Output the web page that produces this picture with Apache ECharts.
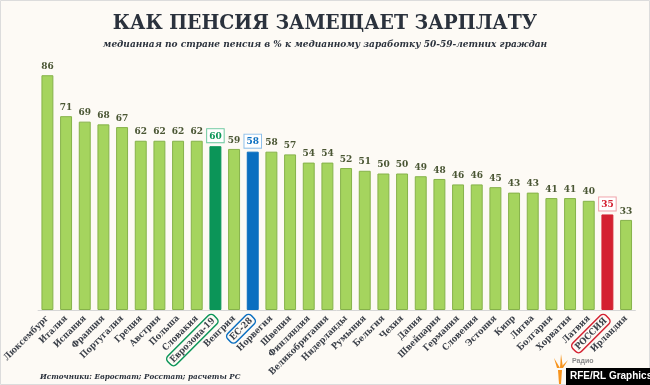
<!DOCTYPE html>
<html><head><meta charset="utf-8">
<script src="https://cdn.jsdelivr.net/npm/echarts@6/dist/echarts.min.js"></script>
<style>html,body{margin:0;padding:0;background:#fdfaf5}#c{width:650px;height:385px}</style>
</head><body><div id="c"></div>
<script>
const categories = ['Люксембург','Италия','Испания','Франция','Португалия','Греция','Австрия','Польша','Словакия','Еврозона-19','Венгрия','ЕС-28','Норвегия','Швеция','Финляндия','Великобритания','Нидерланды','Румыния','Бельгия','Чехия','Дания','Швейцария','Германия','Словения','Эстония','Кипр','Литва','Болгария','Хорватия','Латвия','РОССИЯ','Ирландия'];
const values = [86,71,69,68,67,62,62,62,62,60,59,58,58,57,54,54,52,51,50,50,49,48,46,46,45,43,43,41,41,40,35,33];
const highlight = {'Еврозона-19':'eu','ЕС-28':'ec','РОССИЯ':'ru'};
const hlColors = {eu:'#0b9558', ec:'#0b6fc0', ru:'#d42131'};
const labelBorder = {eu:'#6dc9a0', ec:'#8fc0ea', ru:'#f0a0a8'};

const serif = '"DejaVu Serif Condensed","DejaVu Serif","Liberation Serif",serif';
const chart = echarts.init(document.getElementById('c'));

const data = values.map((v,i)=>{
  const k = highlight[categories[i]];
  if(!k) return v;
  return {value:v, itemStyle:{color:hlColors[k], borderColor:hlColors[k]},
    label:{formatter:'{'+k+'|{c}}'}};
});
const richVal = {};
['eu','ec','ru'].forEach(k=>{
  richVal[k]={color:hlColors[k], fontFamily:serif, fontWeight:'bold', fontSize:10,
    borderColor:labelBorder[k], borderWidth:1, backgroundColor:'#fff', padding:[2,2,1,2]};
});
const richAx = {};
['eu','ec','ru'].forEach(k=>{
  richAx[k]={color:'#3a3f48', fontFamily:serif, fontWeight:'bold', fontSize:9,
    borderColor:hlColors[k], borderWidth:1.5, borderRadius:4, padding:[2,3,1,3]};
});

chart.setOption({
  backgroundColor:'#fdfaf5',
  animation:false,
  title:[
    {text:'КАК ПЕНСИЯ ЗАМЕЩАЕТ ЗАРПЛАТУ', left:'center', top:8,
     textStyle:{fontFamily:serif, fontWeight:'bold', fontSize:21, color:'#2b323d'}},
    {text:'медианная по стране пенсия в % к медианному заработку 50-59-летних граждан', left:'center', top:34,
     textStyle:{fontFamily:serif, fontWeight:'bold', fontStyle:'italic', fontSize:10, color:'#2b323d'}}
  ],
  grid:{left:34.6, right:14.6, top:37, bottom:75},
  xAxis:{type:'category', data:categories,
    axisLine:{lineStyle:{color:'#d6d6d6'}}, axisTick:{show:false},
    axisLabel:{interval:0, rotate:45, margin:7, color:'#3a3f48', fontFamily:serif, fontWeight:'bold', fontSize:9,
      formatter:(v)=> highlight[v] ? '{'+highlight[v]+'|'+v+'}' : v, rich:richAx}},
  yAxis:{type:'value', min:0, max:100, show:false, splitLine:{show:false}},
  series:[{type:'bar', data:data, barCategoryGap:'36%',
    itemStyle:{color:'#a5d45e', borderColor:'#86b24a', borderWidth:1},
    label:{show:true, position:'top', distance:4, color:'#4a5634', fontFamily:serif, fontWeight:'bold', fontSize:10, rich:richVal}
  }],
  graphic:[
    {type:'rect', shape:{x:0.5,y:0.5,width:649,height:384}, style:{fill:null, stroke:'#dcdcdc', lineWidth:1}, silent:true},
    {type:'text', left:40, top:373, style:{text:'Источники: Евростат; Росстат; расчеты РС', font:'italic bold 8px '+serif, fill:'#2b323d'}},
    {type:'rect', shape:{x:566,y:368,width:84,height:17}, style:{fill:'#000'}},
    {type:'text', left:570, top:371, style:{text:'RFE/RL Graphics', font:'bold 10px "Liberation Sans",Arial,sans-serif', fill:'#fff'}},
    {type:'text', left:572, top:358, style:{text:'Радио', font:'bold 7px "Liberation Sans",Arial,sans-serif', fill:'#888'}},
    {type:'polygon', shape:{points:[[558,370],[562,370],[561,384],[559,384]]}, style:{fill:'#f7941d'}},
    {type:'polygon', shape:{points:[[554,358],[560,368],[557,368]]}, style:{fill:'#f7941d'}},
    {type:'polygon', shape:{points:[[561,354],[563,368],[560,368]]}, style:{fill:'#f7941d'}},
    {type:'polygon', shape:{points:[[568,360],[563,368],[561,367]]}, style:{fill:'#f7941d'}}
  ]
});
</script></body></html>
